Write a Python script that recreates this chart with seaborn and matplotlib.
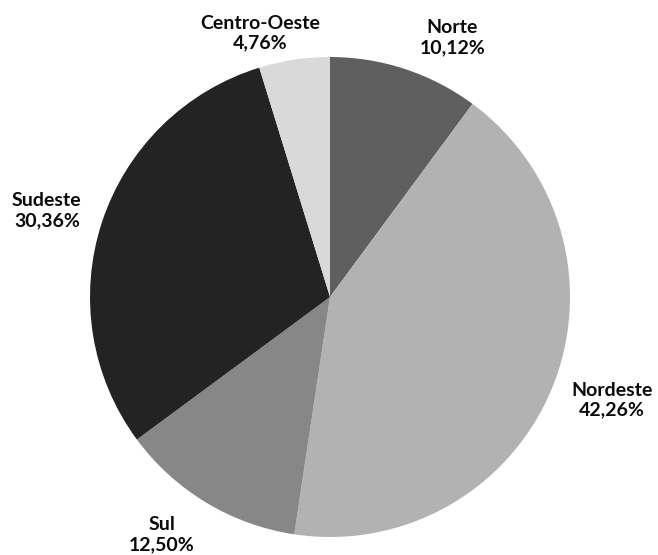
import matplotlib
matplotlib.use("Agg")
import matplotlib.pyplot as plt
import seaborn as sns

# Distribuição por região
regions = ['Norte', 'Nordeste', 'Sul', 'Sudeste', 'Centro-Oeste']
shares = [10.12, 42.26, 12.50, 30.36, 4.76]
pct_labels = ['10,12%', '42,26%', '12,50%', '30,36%', '4,76%']
colors = ['#5f5f5f', '#b2b2b2', '#878787', '#232323', '#d9d9d9']

# label block centres, in units of pie radius
label_pos = [(0.51, 1.08), (1.175, -0.43), (-0.70, -0.99),
             (-1.18, 0.36), (-0.29, 1.10)]

sns.set_theme(style='white')
plt.rcParams['font.family'] = ['Lato', 'DejaVu Sans']

fig = plt.figure(figsize=(6.58, 5.55), dpi=100)
r_px = 240
cx, cy = 330, 555 - 297
ax = fig.add_axes([(cx - r_px) / 658, (cy - r_px) / 555, 2 * r_px / 658, 2 * r_px / 555])

ax.pie(shares, colors=colors, startangle=90, counterclock=False, radius=1,
       wedgeprops=dict(linewidth=0))
ax.set_xlim(-1, 1)
ax.set_ylim(-1, 1)
ax.set_aspect('equal')
ax.axis('off')

for name, pct, (x, y) in zip(regions, pct_labels, label_pos):
    ax.text(x, y, f'{name}\n{pct}', ha='center', va='center', fontsize=14,
            fontweight='bold', color='#0a0a0a', linespacing=1.2, clip_on=False)

fig.savefig('out.png', dpi=100, facecolor='white')
